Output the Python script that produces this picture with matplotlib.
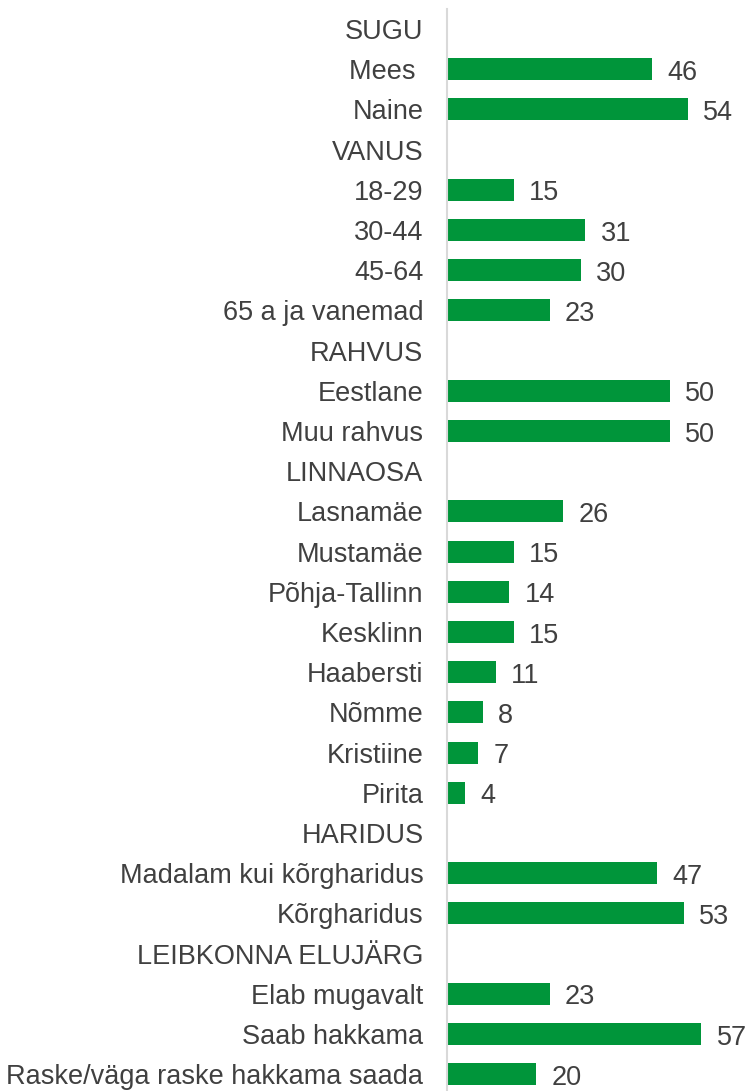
import matplotlib
matplotlib.use("Agg")
import matplotlib.pyplot as plt
import numpy as np

# ---------------------------------------------------------------------------
# Data (None = group header row, no bar)
# ---------------------------------------------------------------------------
LABELS = [
    "SUGU", "Mees ", "Naine",
    "VANUS", "18-29", "30-44", "45-64", "65 a ja vanemad",
    "RAHVUS", "Eestlane", "Muu rahvus",
    "LINNAOSA", "Lasnamäe", "Mustamäe", "Põhja-Tallinn", "Kesklinn",
    "Haabersti", "Nõmme", "Kristiine", "Pirita",
    "HARIDUS", "Madalam kui kõrgharidus", "Kõrgharidus",
    "LEIBKONNA ELUJÄRG", "Elab mugavalt", "Saab hakkama",
    "Raske/väga raske hakkama saada",
]
VALUES = [
    None, 46, 54,
    None, 15, 31, 30, 23,
    None, 50, 50,
    None, 26, 15, 14, 15, 11, 8, 7, 4,
    None, 47, 53,
    None, 23, 57, 20,
]

GREEN = "#00953A"
TEXT = "#404040"
FS = 19.5

plt.rcParams["font.family"] = ["Liberation Sans", "DejaVu Sans"]

fig = plt.figure(figsize=(7.51, 10.91), dpi=100)
n = len(LABELS)
row_px = 40.2
top_px = 29 - row_px / 2
h_px = n * row_px
# axes placed in pixel terms so the rows line up with the reference
ax = fig.add_axes([447 / 751, (1091 - top_px - h_px) / 1091, 303.5 / 751, h_px / 1091])

y = np.arange(n)
bar_y = [i for i, v in zip(y, VALUES) if v is not None]
bar_v = [v for v in VALUES if v is not None]
ax.barh(bar_y, bar_v, height=0.55, color=GREEN)

# value labels, digit centre roughly on the bar centre
for yy, v in zip(bar_y, bar_v):
    ax.annotate(f"{v}", (v, yy), textcoords="offset points", xytext=(11, -7.6),
                ha="left", va="baseline", fontsize=FS, color=TEXT,
                annotation_clip=False)

ax.set_xlim(0, 68)
ax.set_ylim(n - 0.5, -0.5)
ax.set_yticks(y)
ax.set_yticklabels(LABELS, fontsize=FS, color=TEXT)
ax.tick_params(axis="y", length=0, pad=17)
ax.set_xticks([])
for s in ["top", "right", "bottom"]:
    ax.spines[s].set_visible(False)
ax.spines["left"].set_color("#d9d9d9")
ax.spines["left"].set_linewidth(1.5)

fig.savefig("out.png", dpi=100)
